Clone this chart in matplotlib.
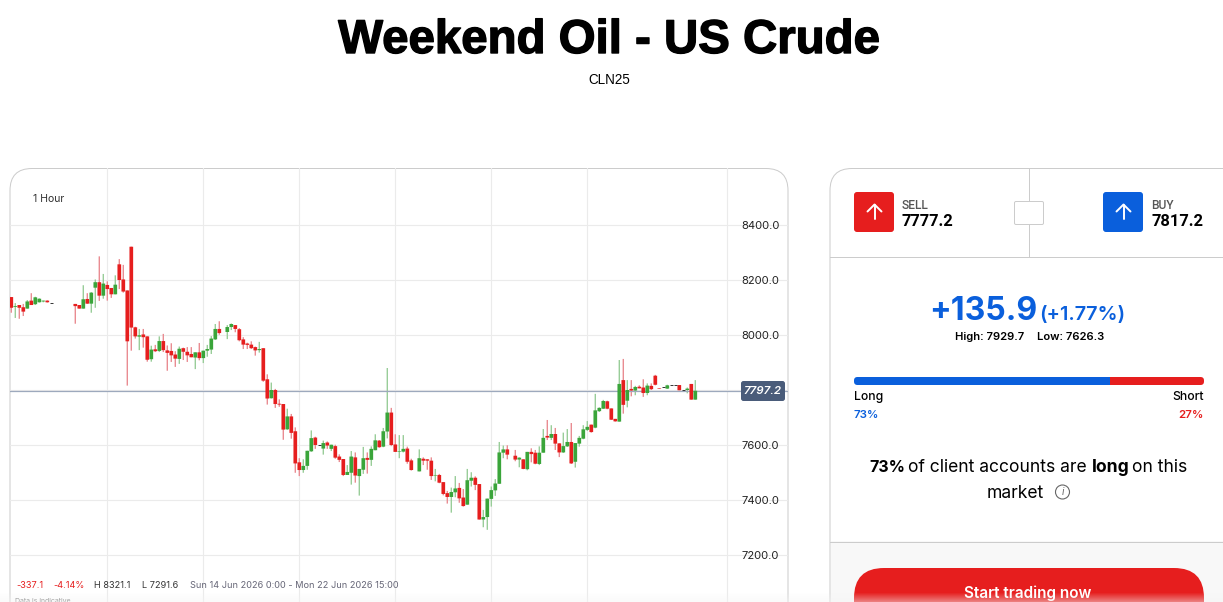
import matplotlib
matplotlib.use("Agg")
import matplotlib.pyplot as plt
import matplotlib.patheffects as pe
from matplotlib.patches import FancyBboxPatch, Rectangle, Circle
import numpy as np

nan = float("nan")

# Hourly US crude candles, one entry per hour; nan marks hours with no trade
opens = [
    8138, 8102, 8109, 8101, 8096, 8125, 8112, 8119, 8122, 8125,
    8116, nan, nan, nan, nan, nan, 8113, 8109, 8096, 8131,
    8114, 8172, 8192, 8143, 8182, 8171, 8148, 8257, 8202, 8162,
    8321, 8028, 7994, 8002, 7995, 7912, 7948, 7942, 7978, 7944,
    7942, 7929, 7913, 7952, 7939, 7931, 7918, 7937, 7916, 7943,
    7947, 7984, 8022, nan, 8011, 8029, 8036, 8021, 7984, 7969,
    7965, 7956, 7945, 7952, 7839, 7770, 7800, 7750, 7749, 7657,
    7704, 7650, 7537, 7509, 7524, 7577, 7627, 7601, 7587, 7609,
    7586, 7596, 7558, 7549, 7491, 7499, 7555, 7487, 7510, 7553,
    7546, 7581, 7616, 7594, 7649, 7718, 7602, 7575, 7576, 7587,
    7544, nan, 7504, 7550, 7548, 7543, 7489, 7491, 7465, 7425,
    7411, 7428, 7444, 7409, 7383, 7470, 7481, 7458, 7329, 7338,
    7404, 7435, 7459, 7572, 7584, nan, 7561, 7547, 7548, 7512,
    7575, 7572, 7531, 7572, 7633, 7626, 7640, 7606, 7573, 7595,
    7611, 7539, 7605, 7623, 7655, 7674, 7663, 7723, 7732, 7759,
    7733, 7695, 7685, 7836, 7761, 7804, 7798, 7812, 7809, 7789,
    7815, 7852, 7806, 7810, 7805, 7818, 7818, 7818, 7801, 7800,
    7822, 7765,
]
closes = [
    8099, 8105, 8099, 8085, 8122, 8109, 8137, 8132, 8125, 8119,
    8116, nan, nan, nan, nan, nan, 8105, 8096, 8130, 8114,
    8154, 8192, 8143, 8187, 8167, 8148, 8183, 8200, 8158, 7977,
    8027, 7995, 7999, 7992, 7910, 7947, 7941, 7978, 7945, 7935,
    7926, 7914, 7950, 7939, 7926, 7919, 7937, 7916, 7943, 7949,
    7987, 8022, 8007, nan, 8029, 8040, 8022, 7981, 7965, 7964,
    7952, 7944, 7949, 7834, 7769, 7800, 7749, 7747, 7656, 7704,
    7644, 7533, 7509, 7524, 7579, 7625, 7600, 7601, 7607, 7598,
    7601, 7554, 7546, 7491, 7502, 7558, 7489, 7513, 7552, 7546,
    7586, 7617, 7592, 7650, 7718, 7600, 7575, 7577, 7586, 7539,
    7509, nan, 7552, 7543, 7543, 7487, 7491, 7463, 7422, 7411,
    7429, 7442, 7406, 7378, 7472, 7481, 7455, 7329, 7338, 7405,
    7436, 7460, 7573, 7584, 7565, nan, 7547, 7554, 7513, 7575,
    7567, 7532, 7572, 7626, 7627, 7640, 7605, 7573, 7596, 7611,
    7533, 7607, 7626, 7657, 7666, 7647, 7726, 7735, 7760, 7732,
    7692, 7686, 7822, 7746, 7800, 7798, 7811, 7806, 7789, 7816,
    7803, 7819, 7804, 7810, 7817, 7818, 7818, 7799, 7801, 7805,
    7765, 7797.2,
]
highs = [
    8138, 8116, 8109, 8113, 8127, 8152, 8139, 8133, 8125, 8126,
    8117, nan, nan, nan, nan, nan, 8113, 8109, 8181, 8152,
    8156, 8202, 8286, 8222, 8195, 8171, 8217, 8276, 8255, 8162,
    8321.1, 8030, 8022, 8022, 7995, 7961, 7964, 7995, 8004, 7962,
    7970, 7941, 7958, 7954, 7956, 7956, 7937, 7971, 7943, 7964,
    7996, 8040, 8050, nan, 8036, 8042, 8036, 8025, 7992, 7972,
    7977, 7958, 7975, 7952, 7857, 7827, 7804, 7766, 7749, 7732,
    7713, 7664, 7552, 7548, 7579, 7653, 7630, 7602, 7616, 7613,
    7601, 7601, 7566, 7549, 7527, 7578, 7573, 7513, 7593, 7573,
    7595, 7639, 7618, 7662, 7880, 7735, 7639, 7636, 7636, 7594,
    7550, nan, 7584, 7555, 7548, 7555, 7513, 7495, 7465, 7433,
    7445, 7487, 7462, 7440, 7513, 7501, 7486, 7458, 7364, 7405,
    7449, 7476, 7611, 7598, 7599, nan, 7582, 7555, 7548, 7575,
    7588, 7582, 7595, 7658, 7691, 7672, 7662, 7606, 7645, 7658,
    7680, 7607, 7633, 7672, 7687, 7674, 7786, 7737, 7764, 7761,
    7733, 7695, 7909, 7913, 7836, 7836, 7815, 7817, 7839, 7824,
    7824, 7855, 7806, 7811, 7819, 7819, 7819, 7818, 7802, 7809,
    7822, 7836,
]
lows = [
    8081, 8062, 8059, 8069, 8096, 8109, 8109, 8118, 8119, 8118,
    8115, nan, nan, nan, nan, nan, 8041, 8096, 8096, 8113,
    8081, 8099, 8124, 8132, 8125, 8135, 8148, 8167, 8154, 7816,
    7943, 7987, 7945, 7954, 7903, 7903, 7938, 7938, 7938, 7870,
    7902, 7884, 7895, 7909, 7902, 7919, 7876, 7908, 7898, 7921,
    7931, 7982, 8001, nan, 7985, 8018, 8010, 7977, 7949, 7949,
    7949, 7925, 7936, 7830, 7747, 7769, 7735, 7739, 7619, 7655,
    7623, 7499, 7487, 7499, 7510, 7575, 7586, 7600, 7565, 7586,
    7578, 7550, 7538, 7487, 7491, 7456, 7463, 7416, 7495, 7496,
    7524, 7581, 7590, 7592, 7624, 7596, 7575, 7552, 7573, 7532,
    7507, nan, 7504, 7527, 7510, 7473, 7468, 7461, 7417, 7387,
    7354, 7410, 7390, 7376, 7383, 7449, 7436, 7329, 7301, 7291.6,
    7376, 7415, 7459, 7552, 7548, nan, 7541, 7519, 7512, 7508,
    7537, 7530, 7527, 7572, 7618, 7618, 7582, 7556, 7571, 7593,
    7531, 7518, 7594, 7621, 7651, 7645, 7661, 7720, 7731, 7730,
    7691, 7685, 7685, 7714, 7737, 7777, 7781, 7806, 7775, 7781,
    7800, 7817, 7804, 7809, 7804, 7817, 7817, 7799, 7800, 7788,
    7765, 7765,
]
price_ticks = [8400, 8200, 8000, 7800, 7600, 7400, 7200]
price_labels = ["8400.0", "8200.0", "8000.0", "", "7600.0", "7400.0", "7200.0"]
time_grid = [24, 48, 72, 96, 120, 144, 179]
last_price = 7797.2

title = "Weekend Oil - US Crude"
symbol = "CLN25"
interval = "1 Hour"
sell_price, buy_price = "7777.2", "7817.2"
change_points, change_pct = "+135.9", "(+1.77%)"
day_high, day_low = "High: 7929.7", "Low: 7626.3"
long_share, short_share = 73, 27
stats = ["-337.1", "-4.14%", "H 8321.1", "L 7291.6",
         "Sun 14 Jun 2026 0:00 - Mon 22 Jun 2026 15:00"]

W, H = 1223, 602
RED, GREEN, BLUE = "#E61E1E", "#3AA53A", "#0A5FDC"
RED_WICK, GREEN_WICK = "#E98C92", "#99CD99"
BORDER = "#CCCCCC"
HEAD = "Liberation Sans"
BODY = "Inter"

fig = plt.figure(figsize=(W / 100, H / 100), dpi=100, facecolor="white")

# Page layer in screen pixels, y pointing down
page = fig.add_axes([0, 0, 1, 1], zorder=0)
page.set_xlim(0, W)
page.set_ylim(H, 0)
page.axis("off")


def px(size):
    return size * 0.72


def label(x, y, s, size, color="#000000", weight="normal", ha="left", family=BODY, ax=page, **kw):
    return ax.text(x, y, s, fontsize=px(size), color=color, fontweight=weight, ha=ha,
                   va="center", family=family, **kw)


def rounded(x0, y0, x1, y1, r, ax=page, **kw):
    patch = FancyBboxPatch((x0 + r, y0 + r), x1 - x0 - 2 * r, y1 - y0 - 2 * r,
                           boxstyle=f"round,pad={r},rounding_size={r}", **kw)
    ax.add_patch(patch)
    return patch


# Page heading
label(609, 41, title, 47.4, weight="bold", ha="center", family=HEAD,
      path_effects=[pe.withStroke(linewidth=1.0, foreground="black")])
label(609, 80, symbol, 13.5, ha="center", family=HEAD)

# Chart card and side card
rounded(10, 168.5, 788, 680, 22, facecolor="white", edgecolor=BORDER, linewidth=0.72)
rounded(830, 168.5, 1300, 680, 22, facecolor="white", edgecolor=BORDER, linewidth=0.72)
page.add_patch(Rectangle((830.5, 541), 400, 70, facecolor="#F8F8F8", edgecolor="none"))
page.plot([830, 1223], [541.5, 541.5], color=BORDER, lw=0.72)
page.plot([830, 1223], [256.5, 256.5], color=BORDER, lw=0.72)
page.plot([1028.5, 1028.5], [168, 256], color=BORDER, lw=0.72)
rounded(1014.5, 201.5, 1043.5, 224.5, 1.5, facecolor="white", edgecolor=BORDER, linewidth=0.72, zorder=3)

# Sell and buy buttons
for x0, color, name, value in [(854, RED, "SELL", sell_price), (1103, BLUE, "BUY", buy_price)]:
    rounded(x0, 192, x0 + 40, 232, 3, facecolor=color, edgecolor="none")
    cx = x0 + 20.5
    page.plot([cx, cx], [219, 205], color="white", lw=1.4, solid_capstyle="round")
    page.plot([cx - 7, cx, cx + 7], [211.5, 204.5, 211.5], color="white", lw=1.4,
              solid_capstyle="round", solid_joinstyle="round")
    label(x0 + 48, 205.5, name, 12, color="#555555", family="Roboto", weight="medium")
    label(x0 + 48, 222, value, 16.5, weight="bold", family="Roboto")

# Daily change block
label(929.5, 312, change_points, 32, color=BLUE, weight="bold")
label(1039, 315, change_pct, 20, color=BLUE, weight="semibold")
label(955, 337.5, day_high, 11.2, weight="semibold")
label(1037, 337.5, day_low, 11.2, weight="semibold")

# Long and short sentiment bar
split = 854 + 350 * long_share / (long_share + short_share)
rounded(854, 377, 870, 385, 3.5, facecolor=BLUE, edgecolor="none")
rounded(1188, 377, 1204, 385, 3.5, facecolor=RED, edgecolor="none")
page.add_patch(Rectangle((858, 377), split - 858, 8, facecolor=BLUE, edgecolor="none"))
page.add_patch(Rectangle((split, 377), 1200 - split, 8, facecolor=RED, edgecolor="none"))
label(854, 397, "Long", 12.2, weight="medium")
label(1204, 397, "Short", 12.2, weight="medium", ha="right")
label(854, 415, f"{long_share}%", 11.5, color=BLUE, weight="semibold")
label(1204, 415, f"{short_share}%", 11.5, color=RED, weight="semibold", ha="right")

# Sentiment sentence, with the bold runs placed separately
label(869, 468, f"{long_share}%", 16, weight="bold")
label(908, 468, "of client accounts are", 17.5)
label(1092, 468, "long", 17.5, weight="bold")
label(1132, 468, "on this", 17.5)
label(987, 494, "market", 17.5)
page.add_patch(Circle((1062.5, 492), 7, facecolor="none", edgecolor="#666666", linewidth=0.8))
label(1062.5, 492, "i", 10, color="#666666", ha="center", style="italic")

# Call to action
rounded(854, 568, 1204, 680, 30, facecolor=RED, edgecolor="none")
label(1028, 593, "Start trading now", 15.3, color="white", weight="semibold", ha="center")

# Candlestick chart, its data limits tied to the card's pixel box
chart = fig.add_axes([10 / W, 0, 778 / W, (H - 168) / H], zorder=1)
chart.patch.set_alpha(0)
chart.set_xlim((10 - 11.3) / 4, (788 - 11.3) / 4)
chart.set_ylim(8400 - (602 - 225) / 0.275, 8400 + (225 - 168) / 0.275)
for spine in chart.spines.values():
    spine.set_visible(False)
chart.set_xticks(time_grid)
chart.set_yticks(price_ticks)
chart.set_yticklabels(price_labels, ha="right", family=BODY, fontsize=px(11.2), color="#222222")
chart.yaxis.tick_right()
chart.tick_params(axis="x", length=0, labelbottom=False)
chart.tick_params(axis="y", length=0, pad=-6.2)
chart.grid(True, color="#EBEBEB", linewidth=0.8)
chart.set_axisbelow(True)

o, c, hi, lo = map(np.array, (opens, closes, highs, lows))
idx = np.arange(len(o))
up = c > o
down = c < o
flat = c == o

wick_kw = dict(linewidth=1.0, zorder=2, snap=False)
chart.vlines(idx[down], lo[down], hi[down], color=RED_WICK, **wick_kw)
chart.vlines(idx[up], lo[up], hi[up], color=GREEN_WICK, **wick_kw)
body_kw = dict(width=0.92, zorder=3, snap=False, linewidth=0)
chart.bar(idx[down], (o - c)[down], bottom=c[down], color=RED, **body_kw)
chart.bar(idx[up], (c - o)[up], bottom=o[up], color=GREEN, **body_kw)
chart.hlines(o[flat], idx[flat] - 0.42, idx[flat] + 0.42, color="#333333", linewidth=0.7, zorder=3)

# Last price line and badge
chart.axhline(last_price, color="#9DA9BD", linewidth=0.9, zorder=2.5)
overlay = fig.add_axes([0, 0, 1, 1], zorder=2)
overlay.set_xlim(0, W)
overlay.set_ylim(H, 0)
overlay.axis("off")
rounded(741, 381, 785, 401, 2.5, ax=overlay, facecolor="#4A5C7A", edgecolor="none")
label(763, 391, f"{last_price:.1f}", 11.5, color="white", weight="semibold", ha="center",
      style="italic", ax=overlay)

# Chart captions
label(33, 198.5, interval, 10.5, color="#333333", ax=overlay)
stat_x = [16, 53, 94, 142, 190]
stat_color = [RED, RED, "#333333", "#333333", "#666677"]
for x, s, col in zip(stat_x, stats, stat_color):
    label(x, 585, s, 9.2, color=col, ax=overlay)
label(15, 601, "Data is indicative", 7, color="#777777", ax=overlay)

# Soft fade along the bottom edge of the page
fade = np.zeros((10, 1, 4))
fade[..., :3] = 0.96
fade[..., 3] = np.linspace(0, 0.45, 10)[:, None]
overlay.imshow(fade, extent=(0, W, H, H - 10), origin="upper", aspect="auto", zorder=5)
overlay.set_xlim(0, W)
overlay.set_ylim(H, 0)

fig.savefig("out.png", dpi=100)
